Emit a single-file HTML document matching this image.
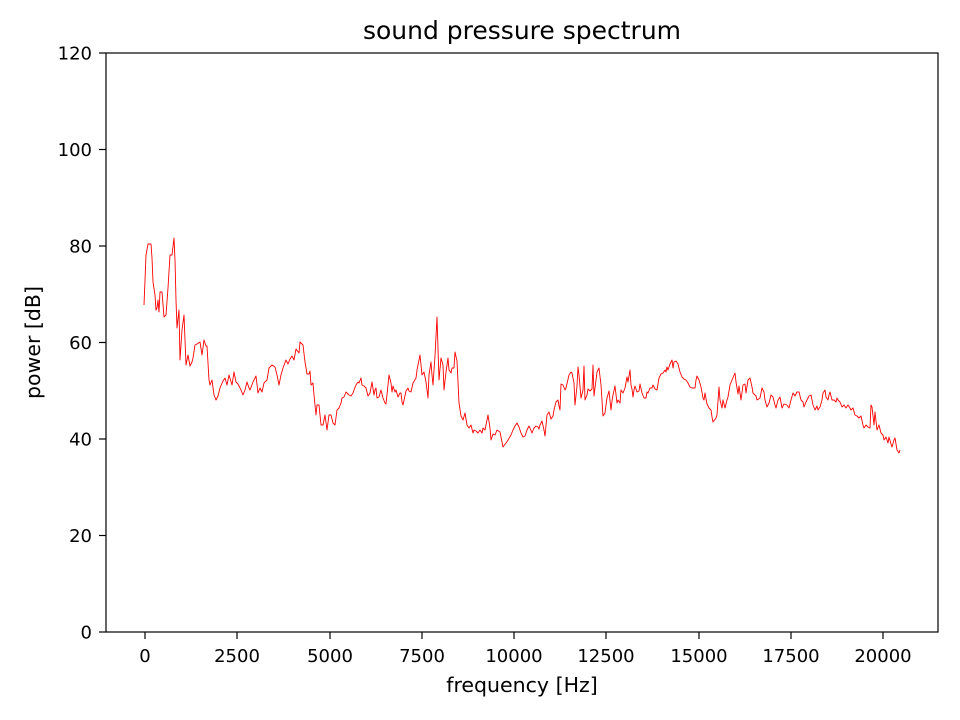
<!DOCTYPE html>
<html><head><meta charset="utf-8"><style>body{margin:0;background:#fff}svg{display:block}text{font-family:"DejaVu Sans","Liberation Sans",sans-serif;fill:#000}</style></head><body>
<svg width="960" height="720" xmlns="http://www.w3.org/2000/svg">
<rect width="960" height="720" fill="#fff"/>
<polyline fill="none" stroke="#ff0000" stroke-width="0.9" stroke-linejoin="round" points="144,305 146,255 148,244 151,244 152,258 153,282 155,295 156,310 157,308 158,300 159,312 160,292 162,292 164,317 166,315 168,288 170,255 172,255 174,238 175,260 176,300 177,328 179,310 180,360 182,330 184,315 186,365 188,355 190,366 192,362 193,358 195,345 197,344 200,342 202,355 204,340 206,346 207,346 209,380 210,385 212,380 214,395 216,400 218,396 220,388 223,381 225,378 227,385 229,375 232,385 234,372 236,382 238,384 241,390 243,395 245,390 247,382 249,388 250,390 253,382 256,376 258,393 260,388 262,392 264,383 267,380 269,368 272,365 275,367 277,375 279,385 281,375 283,368 286,360 288,364 290,359 292,356 294,360 296,349 299,353 300,342 303,345 305,362 307,374 309,374 310,371 311,385 313,383 314,395 316,415 317,405 319,405 321,425 323,425 325,415 327,430 329,415 331,415 333,423 335,425 337,410 339,408 341,403 342,398 344,397 346,392 349,395 351,396 353,393 354,390 356,385 358,382 359,383 361,378 362,385 364,386 366,388 368,396 370,393 372,382 374,395 375,390 376,388 377,398 379,397 381,390 383,398 385,403 386,404 388,385 389,375 391,383 392,392 393,386 395,392 396,390 398,397 400,393 401,393 402,402 403,405 406,391 408,388 409,391 411,392 413,383 416,378 417,370 420,355 422,375 424,372 426,382 428,398 429,375 431,362 432,375 433,385 435,356 437,317 439,380 441,358 443,365 444,390 446,372 448,358 449,370 451,373 452,368 454,368 455,352 457,361 459,403 461,416 463,420 465,413 467,425 469,428 471,425 473,433 474,430 476,431 478,433 480,430 482,433 483,428 485,430 487,420 488,415 490,428 491,440 493,434 495,435 497,430 500,432 503,447 506,443 508,440 511,435 513,430 515,426 517,423 519,427 521,433 523,437 525,436 527,430 529,426 530,428 532,433 534,428 536,426 538,427 539,429 540,425 542,421 544,430 545,436 547,415 549,412 551,419 553,416 554,410 556,402 558,400 559,406 560,410 561,384 563,385 565,390 566,388 569,375 571,372 572,373 574,383 575,405 577,386 578,367 579,375 581,398 583,390 584,366 585,400 587,395 588,389 590,391 592,389 593,365 594,396 595,388 597,372 598,370 599,368 601,385 603,416 605,413 606,405 607,398 609,391 611,410 612,401 613,395 615,386 617,403 618,400 620,403 621,390 623,393 625,388 627,377 628,382 630,370 631,385 632,389 633,397 634,390 635,386 637,392 639,391 640,384 642,393 644,398 646,398 647,392 648,393 650,388 652,388 653,385 655,389 657,390 659,378 661,374 663,373 665,370 666,372 667,367 668,370 670,364 672,360 673,368 674,362 676,361 678,364 680,372 682,377 684,379 686,380 688,383 690,387 692,388 695,388 696,380 697,376 699,380 701,387 703,398 704,400 705,393 707,404 709,408 711,410 712,417 713,422 716,418 717,415 719,387 720,400 722,408 723,400 725,408 727,400 728,397 730,385 732,380 735,373 736,382 738,394 739,386 741,400 743,385 745,384 746,393 748,380 750,378 752,387 753,393 756,396 757,400 760,398 762,388 764,392 765,400 767,407 769,403 771,395 773,397 775,405 776,408 778,400 780,397 782,408 784,404 787,405 789,408 791,400 793,393 795,396 797,392 799,392 801,400 803,402 804,407 806,402 809,396 811,395 813,405 815,410 817,406 818,410 820,407 822,400 823,393 825,390 826,397 828,400 829,395 830,392 832,400 834,400 836,402 837,398 838,400 840,402 842,407 844,405 846,408 848,405 850,408 851,410 853,408 855,415 857,416 859,418 861,416 863,425 864,428 866,425 868,427 870,428 871,405 872,407 874,425 875,412 877,430 879,425 881,433 883,435 884,440 886,437 888,443 889,437 891,444 892,447 894,440 895,438 897,450 899,453 900,450"/>
<rect x="106" y="53" width="832" height="579" fill="none" stroke="#000" stroke-width="1.2"/>
<g stroke="#000" stroke-width="1.2">
<line x1="99" y1="632" x2="106" y2="632"/><line x1="99" y1="535.5" x2="106" y2="535.5"/><line x1="99" y1="439" x2="106" y2="439"/><line x1="99" y1="342.5" x2="106" y2="342.5"/><line x1="99" y1="246" x2="106" y2="246"/><line x1="99" y1="149.5" x2="106" y2="149.5"/><line x1="99" y1="53" x2="106" y2="53"/>
<line x1="145" y1="632" x2="145" y2="639"/><line x1="237" y1="632" x2="237" y2="639"/><line x1="330" y1="632" x2="330" y2="639"/><line x1="422" y1="632" x2="422" y2="639"/><line x1="514" y1="632" x2="514" y2="639"/><line x1="606" y1="632" x2="606" y2="639"/><line x1="699" y1="632" x2="699" y2="639"/><line x1="791" y1="632" x2="791" y2="639"/><line x1="883" y1="632" x2="883" y2="639"/>
</g>
<g font-size="18" text-anchor="end">
<text x="92" y="638.5">0</text><text x="92" y="542">20</text><text x="92" y="445.5">40</text><text x="92" y="349">60</text><text x="92" y="252.5">80</text><text x="92" y="156">100</text><text x="92" y="59.5">120</text>
</g>
<g font-size="18" text-anchor="middle">
<text x="145" y="662">0</text><text x="237" y="662">2500</text><text x="330" y="662">5000</text><text x="422" y="662">7500</text><text x="514" y="662">10000</text><text x="606" y="662">12500</text><text x="699" y="662">15000</text><text x="791" y="662">17500</text><text x="883" y="662">20000</text>
</g>
<g text-anchor="middle">
<text x="522" y="692" font-size="20.5">frequency [Hz]</text>
<text x="522" y="39" font-size="25">sound pressure spectrum</text>
<text transform="translate(40,342.5) rotate(-90)" font-size="20.5">power [dB]</text>
</g>
</svg>
</body></html>
